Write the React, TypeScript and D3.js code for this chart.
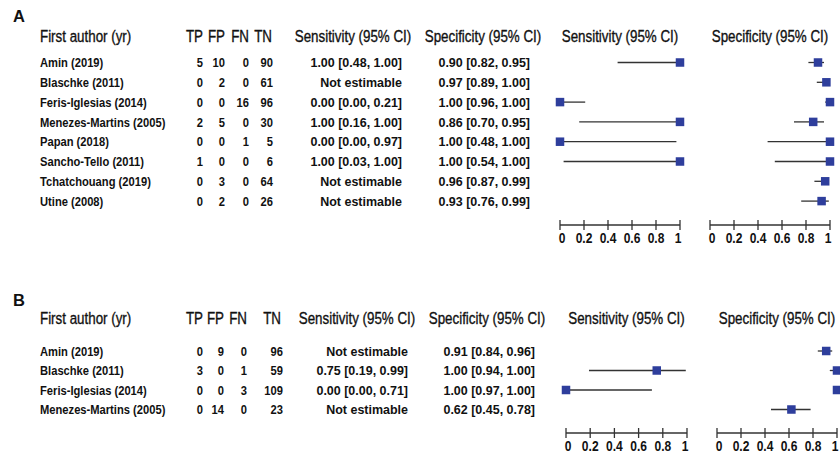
import React from "react";
import * as d3 from "d3";

// ---------- Data ----------
const studiesA = [
  "Amin (2019)",
  "Blaschke (2011)",
  "Feris-Iglesias (2014)",
  "Menezes-Martins (2005)",
  "Papan (2018)",
  "Sancho-Tello (2011)",
  "Tchatchouang (2019)",
  "Utine (2008)",
];
const tpA = [5, 0, 0, 2, 0, 1, 0, 0];
const fpA = [10, 2, 0, 5, 0, 0, 3, 2];
const fnA = [0, 0, 16, 0, 1, 0, 0, 0];
const tnA = [90, 61, 96, 30, 5, 6, 64, 26];
// [estimate, lower, upper] or null when not estimable
const sensA: ([number, number, number] | null)[] = [
  [1.0, 0.48, 1.0],
  null,
  [0.0, 0.0, 0.21],
  [1.0, 0.16, 1.0],
  [0.0, 0.0, 0.97],
  [1.0, 0.03, 1.0],
  null,
  null,
];
const specA: ([number, number, number] | null)[] = [
  [0.9, 0.82, 0.95],
  [0.97, 0.89, 1.0],
  [1.0, 0.96, 1.0],
  [0.86, 0.7, 0.95],
  [1.0, 0.48, 1.0],
  [1.0, 0.54, 1.0],
  [0.96, 0.87, 0.99],
  [0.93, 0.76, 0.99],
];

const studiesB = [
  "Amin (2019)",
  "Blaschke (2011)",
  "Feris-Iglesias (2014)",
  "Menezes-Martins (2005)",
];
const tpB = [0, 3, 0, 0];
const fpB = [9, 0, 0, 14];
const fnB = [0, 1, 3, 0];
const tnB = [96, 59, 109, 23];
const sensB: ([number, number, number] | null)[] = [
  null,
  [0.75, 0.19, 0.99],
  [0.0, 0.0, 0.71],
  null,
];
const specB: ([number, number, number] | null)[] = [
  [0.91, 0.84, 0.96],
  [1.0, 0.94, 1.0],
  [1.0, 0.97, 1.0],
  [0.62, 0.45, 0.78],
];

const axisTicks = [0, 0.2, 0.4, 0.6, 0.8, 1];
const tickLabels = ["0", "0.2", "0.4", "0.6", "0.8", "1"];

// ---------- Styling ----------
const FONT = "'Liberation Sans', Arial, sans-serif";
const SQUARE = "#2E3E9C";
const LINE = "#333333";
const HEAD_SX = 0.81;
const DATA_SX = 0.86;
const VAL_SX = 0.96;

const fmt = (c: [number, number, number] | null) =>
  c ? `${c[0].toFixed(2)} [${c[1].toFixed(2)}, ${c[2].toFixed(2)}]` : "Not estimable";

// condensed text helper (narrow font emulation)
function NText({
  x,
  y,
  sx,
  anchor = "start",
  children,
  ...rest
}: {
  x: number;
  y: number;
  sx: number;
  anchor?: "start" | "middle" | "end";
  children: React.ReactNode;
  [k: string]: any;
}) {
  return (
    <text transform={`translate(${x},${y}) scale(${sx},1)`} textAnchor={anchor} {...rest}>
      {children}
    </text>
  );
}

type PanelProps = {
  label: string;
  studies: string[];
  tp: number[];
  fp: number[];
  fn: number[];
  tn: number[];
  sens: ([number, number, number] | null)[];
  spec: ([number, number, number] | null)[];
  top: number;
  headerY: number;
  firstRowY: number;
  rowStep: number;
  axisY: number;
  cols: { tp: number; fp: number; fn: number; tn: number; tnH: number; sensR: number; specR: number; sensH: number; specH: number };
  sensX: [number, number];
  specX: [number, number];
};

function Forest({ x, ci, y }: { x: d3.ScaleLinear<number, number>; ci: [number, number, number] | null; y: number }) {
  if (!ci) return null;
  const s = 8.5;
  return (
    <g>
      <line x1={x(ci[1])} x2={x(ci[2])} y1={y} y2={y} stroke={LINE} strokeWidth={1.3} />
      <rect x={x(ci[0]) - s / 2} y={y - s / 2} width={s} height={s} fill={SQUARE} />
    </g>
  );
}

function Axis({ x, y }: { x: d3.ScaleLinear<number, number>; y: number }) {
  const [r0, r1] = x.range();
  return (
    <g>
      <line x1={r0} x2={r1} y1={y} y2={y} stroke={LINE} strokeWidth={1.3} />
      {axisTicks.map((t, i) => (
        <g key={i}>
          <line x1={x(t)} x2={x(t)} y1={y - 5} y2={y + 5} stroke={LINE} strokeWidth={1.3} />
          <NText
            x={x(t) + (i === 0 ? 2 : i === axisTicks.length - 1 ? -2 : 0)}
            y={y + 18}
            sx={DATA_SX}
            anchor="middle"
            fontWeight="bold"
            fontSize={14}
            fill="#111"
          >
            {tickLabels[i]}
          </NText>
        </g>
      ))}
    </g>
  );
}

function Panel(p: PanelProps) {
  const xs = d3.scaleLinear().domain([0, 1]).range(p.sensX);
  const xp = d3.scaleLinear().domain([0, 1]).range(p.specX);
  const rowY = (i: number) => p.firstRowY + i * p.rowStep;
  const hs = 16.5;
  const ds = 13;
  return (
    <g fontFamily={FONT} fill="#111">
      <text x={13} y={p.top} fontWeight="bold" fontSize={16.5}>
        {p.label}
      </text>
      <g fontSize={hs} stroke="#111" strokeWidth={0.35}>
        <NText x={40} y={p.headerY} sx={HEAD_SX}>First author (yr)</NText>
        <NText x={p.cols.tp} y={p.headerY} sx={HEAD_SX} anchor="end">TP</NText>
        <NText x={p.cols.fp} y={p.headerY} sx={HEAD_SX} anchor="end">FP</NText>
        <NText x={p.cols.fn} y={p.headerY} sx={HEAD_SX} anchor="end">FN</NText>
        <NText x={p.cols.tnH} y={p.headerY} sx={HEAD_SX} anchor="end">TN</NText>
        <NText x={p.cols.sensH} y={p.headerY} sx={HEAD_SX} anchor="middle">Sensitivity (95% CI)</NText>
        <NText x={p.cols.specH} y={p.headerY} sx={HEAD_SX} anchor="middle">Specificity (95% CI)</NText>
        <NText x={(p.sensX[0] + p.sensX[1]) / 2} y={p.headerY} sx={HEAD_SX} anchor="middle">Sensitivity (95% CI)</NText>
        <NText x={(p.specX[0] + p.specX[1]) / 2} y={p.headerY} sx={HEAD_SX} anchor="middle">Specificity (95% CI)</NText>
      </g>
      <g fontSize={ds} fontWeight="bold">
        {p.studies.map((s, i) => {
          const y = rowY(i) + 4.6;
          return (
            <g key={s}>
              <NText x={40} y={y} sx={DATA_SX}>{s}</NText>
              <NText x={p.cols.tp} y={y} sx={DATA_SX} anchor="end">{p.tp[i]}</NText>
              <NText x={p.cols.fp} y={y} sx={DATA_SX} anchor="end">{p.fp[i]}</NText>
              <NText x={p.cols.fn} y={y} sx={DATA_SX} anchor="end">{p.fn[i]}</NText>
              <NText x={p.cols.tn} y={y} sx={DATA_SX} anchor="end">{p.tn[i]}</NText>
              <NText x={p.cols.sensR} y={y} sx={VAL_SX} anchor="end">{fmt(p.sens[i])}</NText>
              <NText x={p.cols.specR} y={y} sx={VAL_SX} anchor="end">{fmt(p.spec[i])}</NText>
            </g>
          );
        })}
      </g>
      {p.studies.map((s, i) => (
        <g key={"f" + s}>
          <Forest x={xs} ci={p.sens[i]} y={rowY(i)} />
          <Forest x={xp} ci={p.spec[i]} y={rowY(i)} />
        </g>
      ))}
      <Axis x={xs} y={p.axisY} />
      <Axis x={xp} y={p.axisY} />
    </g>
  );
}

export default function App() {
  return (
    <svg
      width={840}
      height={454}
      style={{ position: "absolute", left: 0, top: 0, background: "#fff" }}
    >
      <rect width={840} height={454} fill="#fff" />
      <Panel
        label="A"
        studies={studiesA}
        tp={tpA}
        fp={fpA}
        fn={fnA}
        tn={tnA}
        sens={sensA}
        spec={specA}
        top={22}
        headerY={42}
        firstRowY={62.5}
        rowStep={19.8}
        axisY={225}
        cols={{ tp: 203, fp: 225, fn: 249, tn: 273, tnH: 272, sensR: 402, specR: 530, sensH: 353, specH: 483 }}
        sensX={[560, 680]}
        specX={[710, 830]}
      />
      <Panel
        label="B"
        studies={studiesB}
        tp={tpB}
        fp={fpB}
        fn={fnB}
        tn={tnB}
        sens={sensB}
        spec={specB}
        top={306}
        headerY={324}
        firstRowY={351}
        rowStep={19.5}
        axisY={433}
        cols={{ tp: 203, fp: 224, fn: 247, tn: 283, tnH: 281, sensR: 408, specR: 535, sensH: 357, specH: 487 }}
        sensX={[566, 687]}
        specX={[717, 837]}
      />
    </svg>
  );
}
